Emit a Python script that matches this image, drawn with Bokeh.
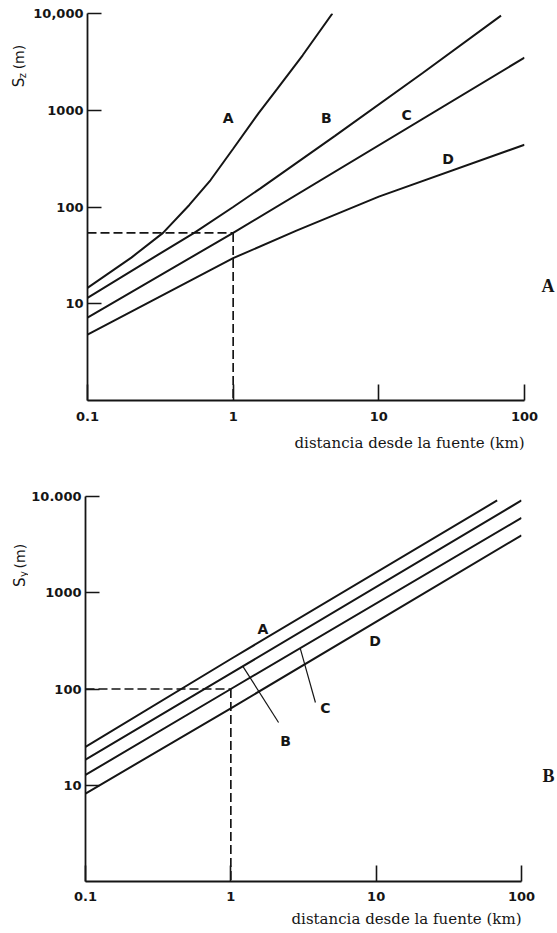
import math
import numpy as np
from bokeh.plotting import figure
from bokeh.models import Label, FixedTicker, Title, LogAxis
from bokeh.core.properties import value
from bokeh.layouts import column, row
from bokeh.embed import file_html
from bokeh.resources import INLINE

# ---------------- data: panel A (S_z) ----------------
sz_A_x = [0.1, 0.2, 0.33, 0.5, 0.7, 1.0, 1.5, 2.0, 3.0, 4.8]
sz_A_y = [14.6, 30, 54, 105, 190, 400, 940, 1650, 3700, 10000]
sz_B_x = [0.1, 0.3, 0.54, 1.0, 1.53, 5, 20, 69]
sz_B_y = [11.5, 31.6, 54, 100, 155, 544, 2430, 9500]
sz_C_x = [0.1, 1, 100]
sz_C_y = [7.2, 54, 3500]
sz_D_x = [0.1, 1, 2.72, 10, 100]
sz_D_y = [4.8, 29.6, 57, 128, 440]
sz_ref_x = 1.0
sz_ref_y = 54

# ---------------- data: panel B (S_y) ----------------
sy_A_x = [0.1, 1, 68]
sy_A_y = [25, 205, 9100]
sy_B_x = [0.1, 1, 100]
sy_B_y = [18.5, 145, 9100]
sy_C_x = [0.1, 1, 100]
sy_C_y = [12.8, 100, 6000]
sy_D_x = [0.1, 1, 100]
sy_D_y = [8.2, 63, 3950]
sy_ref_x = 1.0
sy_ref_y = 100

# ticks and titles
xtick_vals = [0.1, 1, 10, 100]
xtick_labels = ["0.1", "1", "10", "100"]
ytick_vals = [10, 100, 1000, 10000]
ytick_labels_top = ["10", "100", "1000", "10,000"]
ytick_labels_bot = ["10", "100", "1000", "10.000"]
x_title = "distancia desde la fuente (km)"
panel_names = ["A", "B"]
panel_name_y = [15.4, 12.6]

# curve labels
sz_names = ["A", "B", "C", "D"]
sz_lab_x = [0.925, 4.36, 15.5, 29.9]
sz_lab_y = [822, 841, 883, 316]
sy_names = ["A", "B", "C", "D"]
sy_lab_x = [1.66, 2.38, 4.48, 9.84]
sy_lab_y = [425, 29, 64, 319]
# leaders in panel B: (curve, start x, end x, end y)
sy_lead = [("B", 1.21, 2.13, 44.9), ("C", 3.0, 3.82, 72.4)]

INK = "#151515"
SANS = "DejaVu Sans"
SERIF = "DejaVu Serif"


def logi(x0, xs, ys):
    return 10 ** np.interp(math.log10(x0), np.log10(xs), np.log10(ys))


def make_fig(w, h, bl, br, bt, bb, ylabels, tick_standoff, title_standoff,
             pname, pname_y, pname_standoff):
    p = figure(width=w, height=h, x_axis_type="log", y_axis_type="log",
               x_range=(0.1, 100), y_range=(1, 10000), title=None,
               output_backend="svg", toolbar_location=None,
               min_border_left=bl, min_border_right=br,
               min_border_top=bt, min_border_bottom=bb)
    p.outline_line_color = None
    p.xgrid.visible = False
    p.ygrid.visible = False
    for ax in (p.xaxis[0], p.yaxis[0]):
        ax.axis_line_color = INK
        ax.axis_line_width = 1.8
        ax.major_tick_line_color = INK
        ax.major_tick_line_width = 1.6
        ax.minor_tick_line_color = None
        ax.major_tick_out = 0
        ax.major_label_text_font = SANS
        ax.major_label_text_font_style = "bold"
        ax.major_label_text_font_size = "13px"
        ax.major_label_text_color = INK
    p.yaxis[0].ticker = FixedTicker(ticks=ytick_vals, minor_ticks=[])
    p.yaxis[0].major_tick_in = 14
    p.yaxis[0].major_label_standoff = 4
    p.yaxis[0].major_label_overrides = dict(zip(ytick_vals, ylabels))
    p.xaxis[0].ticker = FixedTicker(ticks=xtick_vals, minor_ticks=[])
    p.xaxis[0].major_tick_in = 16
    p.xaxis[0].major_label_standoff = tick_standoff
    p.xaxis[0].major_label_overrides = dict(zip(xtick_vals, xtick_labels))
    # panel letter on the right
    ra = LogAxis(ticker=FixedTicker(ticks=[pname_y], minor_ticks=[]),
                 major_label_overrides={pname_y: pname},
                 axis_line_color=None, major_tick_line_color=None,
                 minor_tick_line_color=None, major_tick_out=0, major_tick_in=0,
                 major_label_standoff=pname_standoff,
                 major_label_text_font="Liberation Serif",
                 major_label_text_font_style="bold",
                 major_label_text_font_size="18px",
                 major_label_text_color=INK)
    p.add_layout(ra, "right")
    p.add_layout(Title(text=x_title, align="right", text_font=SERIF,
                       text_font_size="15px", text_font_style="normal",
                       text_color=INK, standoff=title_standoff), "below")
    return p


def title_strip(w, h, sub, xs, ys_top):
    f = figure(width=w, height=h, x_range=(0, w), y_range=(0, h), title=None,
               x_axis_location=None, y_axis_location=None,
               output_backend="svg", toolbar_location=None,
               min_border=0, min_border_left=0, min_border_right=0,
               min_border_top=0, min_border_bottom=0)
    f.outline_line_color = None
    for g in f.grid:
        g.visible = False
    texts = ["S", sub, "(m)"]
    sizes = ["15px", "10px", "14px"]
    for t, s, x, yt in zip(texts, sizes, xs, ys_top):
        f.text(x=[x], y=[h - yt], text=[t], angle=math.pi / 2,
               text_align="left", text_baseline="middle",
               text_font=value(SANS), text_font_size=value(s),
               text_color=INK)
    return f


# ---------------- top panel ----------------
L1 = title_strip(30, 478, "z", [18, 22, 18], [91, 80, 69])
p1 = make_fig(527, 478, 56, 30, 13, 78, ytick_labels_top, 11, 16,
              panel_names[0], panel_name_y[0], 17)
for xs, ys in ((sz_A_x, sz_A_y), (sz_B_x, sz_B_y), (sz_C_x, sz_C_y), (sz_D_x, sz_D_y)):
    p1.line(xs, ys, line_color=INK, line_width=2)
p1.line([0.1, sz_ref_x], [sz_ref_y, sz_ref_y], line_color=INK, line_width=1.7, line_dash="9 4")
p1.line([sz_ref_x, sz_ref_x], [sz_ref_y, 1], line_color=INK, line_width=1.7, line_dash="9 4")
for n, lx, ly in zip(sz_names, sz_lab_x, sz_lab_y):
    p1.add_layout(Label(x=lx, y=ly, text=n, text_align="center", text_baseline="middle",
                        text_font=SANS, text_font_style="bold", text_font_size="14px",
                        text_color=INK))

# ---------------- bottom panel ----------------
L2 = title_strip(28, 455, "y", [19, 23, 19], [107, 95, 85])
p2 = make_fig(529, 455, 56, 35, 18, 52, ytick_labels_bot, 10, 8,
              panel_names[1], panel_name_y[1], 21)
sy_series = {"A": (sy_A_x, sy_A_y), "B": (sy_B_x, sy_B_y),
             "C": (sy_C_x, sy_C_y), "D": (sy_D_x, sy_D_y)}
for k in ["A", "B", "C", "D"]:
    xs, ys = sy_series[k]
    p2.line(xs, ys, line_color=INK, line_width=2)
p2.line([0.1, sy_ref_x], [sy_ref_y, sy_ref_y], line_color=INK, line_width=1.7, line_dash="9 4")
p2.line([sy_ref_x, sy_ref_x], [sy_ref_y, 1], line_color=INK, line_width=1.7, line_dash="9 4")
for k, x0, x1, y1 in sy_lead:
    xs, ys = sy_series[k]
    y0 = logi(x0, xs, ys)
    p2.line([x0, x1], [y0, y1], line_color=INK, line_width=1.2)
for n, lx, ly in zip(sy_names, sy_lab_x, sy_lab_y):
    p2.add_layout(Label(x=lx, y=ly, text=n, text_align="center", text_baseline="middle",
                        text_font=SANS, text_font_style="bold", text_font_size="14px",
                        text_color=INK))

layout = column(row(L1, p1, spacing=0), row(L2, p2, spacing=0), spacing=0)
open("out.html", "w").write(file_html(layout, INLINE))
